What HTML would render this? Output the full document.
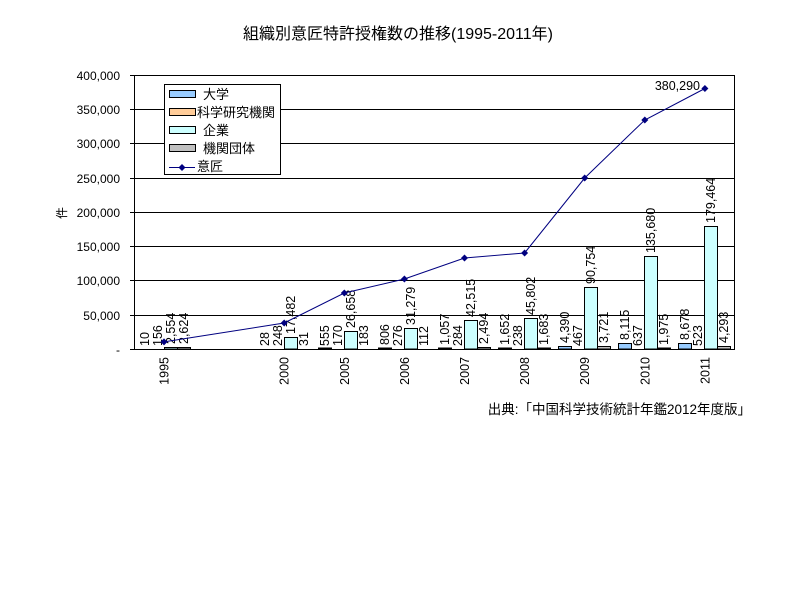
<!DOCTYPE html>
<html><head><meta charset="utf-8"><style>html,body{margin:0;padding:0;background:#fff}svg{display:block}</style></head><body>
<svg width="800" height="600" viewBox="0 0 800 600" xmlns="http://www.w3.org/2000/svg" font-family="'Liberation Sans','Noto Sans CJK JP',sans-serif">
<rect width="800" height="600" fill="#fff"/>
<text x="398" y="39" font-size="16" text-anchor="middle">組織別意匠特許授権数の推移(1995-2011年)</text>
<g stroke="#000" stroke-width="1">
<line x1="134" y1="75.5" x2="735" y2="75.5"/><line x1="134" y1="109.5" x2="735" y2="109.5"/><line x1="134" y1="143.5" x2="735" y2="143.5"/><line x1="134" y1="178.5" x2="735" y2="178.5"/><line x1="134" y1="212.5" x2="735" y2="212.5"/><line x1="134" y1="246.5" x2="735" y2="246.5"/><line x1="134" y1="280.5" x2="735" y2="280.5"/><line x1="134" y1="315.5" x2="735" y2="315.5"/>
<line x1="734.5" y1="75" x2="734.5" y2="349"/>
<line x1="134.5" y1="75" x2="134.5" y2="350"/><line x1="134" y1="349.5" x2="735" y2="349.5"/>
<line x1="130" y1="75.5" x2="134" y2="75.5"/><line x1="130" y1="109.5" x2="134" y2="109.5"/><line x1="130" y1="143.5" x2="134" y2="143.5"/><line x1="130" y1="178.5" x2="134" y2="178.5"/><line x1="130" y1="212.5" x2="134" y2="212.5"/><line x1="130" y1="246.5" x2="134" y2="246.5"/><line x1="130" y1="280.5" x2="134" y2="280.5"/><line x1="130" y1="315.5" x2="134" y2="315.5"/><line x1="130" y1="349.5" x2="134" y2="349.5"/>
</g>
<g font-size="12" text-anchor="end" fill="#000">
<text x="120" y="80">400,000</text><text x="120" y="114">350,000</text><text x="120" y="148">300,000</text><text x="120" y="183">250,000</text><text x="120" y="217">200,000</text><text x="120" y="251">150,000</text><text x="120" y="285">100,000</text><text x="120" y="320">50,000</text><text x="120" y="354">-</text>
</g>
<text x="62" y="217" font-size="12" text-anchor="middle" transform="rotate(-90,62,213)">件</text>
<g stroke="#000" stroke-width="1">
<rect x="164.5" y="347.5" width="13" height="1.5" fill="#ccffff"/><rect x="177.5" y="347.5" width="13" height="1.5" fill="#c0c0c0"/>
<rect x="284.5" y="337.5" width="13" height="11.5" fill="#ccffff"/>
<rect x="318.5" y="348" width="13" height="1" fill="#99ccff"/>
<rect x="344.5" y="331.5" width="13" height="17.5" fill="#ccffff"/>
<rect x="378.5" y="348" width="13" height="1" fill="#99ccff"/>
<rect x="404.5" y="328.5" width="13" height="20.5" fill="#ccffff"/>
<rect x="438.5" y="348" width="13" height="1" fill="#99ccff"/>
<rect x="464.5" y="320.5" width="13" height="28.5" fill="#ccffff"/><rect x="477.5" y="347.5" width="13" height="1.5" fill="#c0c0c0"/>
<rect x="498.5" y="348" width="13" height="1" fill="#99ccff"/>
<rect x="524.5" y="318.5" width="13" height="30.5" fill="#ccffff"/><rect x="537.5" y="348" width="13" height="1" fill="#c0c0c0"/>
<rect x="558.5" y="346.5" width="13" height="2.5" fill="#99ccff"/>
<rect x="584.5" y="287.5" width="13" height="61.5" fill="#ccffff"/><rect x="597.5" y="346.5" width="13" height="2.5" fill="#c0c0c0"/>
<rect x="618.5" y="343.5" width="13" height="5.5" fill="#99ccff"/>
<rect x="644.5" y="256.5" width="13" height="92.5" fill="#ccffff"/><rect x="657.5" y="348" width="13" height="1" fill="#c0c0c0"/>
<rect x="678.5" y="343.5" width="13" height="5.5" fill="#99ccff"/>
<rect x="704.5" y="226.5" width="13" height="122.5" fill="#ccffff"/><rect x="717.5" y="346.5" width="13" height="2.5" fill="#c0c0c0"/>
</g>
<g font-size="12.5">
<text x="149" y="346" transform="rotate(-90,149,346)">10</text><text x="162" y="346" transform="rotate(-90,162,346)">156</text><text x="175" y="344" transform="rotate(-90,175,344)">2,554</text><text x="188" y="344" transform="rotate(-90,188,344)">2,624</text>
<text x="269" y="346" transform="rotate(-90,269,346)">28</text><text x="282" y="346" transform="rotate(-90,282,346)">248</text><text x="295" y="334" transform="rotate(-90,295,334)">17,482</text><text x="308" y="346" transform="rotate(-90,308,346)">31</text>
<text x="329" y="346" transform="rotate(-90,329,346)">555</text><text x="342" y="346" transform="rotate(-90,342,346)">170</text><text x="355" y="328" transform="rotate(-90,355,328)">26,658</text><text x="368" y="346" transform="rotate(-90,368,346)">183</text>
<text x="389" y="345" transform="rotate(-90,389,345)">806</text><text x="402" y="346" transform="rotate(-90,402,346)">276</text><text x="415" y="325" transform="rotate(-90,415,325)">31,279</text><text x="428" y="346" transform="rotate(-90,428,346)">112</text>
<text x="449" y="345" transform="rotate(-90,449,345)">1,057</text><text x="462" y="346" transform="rotate(-90,462,346)">284</text><text x="475" y="317" transform="rotate(-90,475,317)">42,515</text><text x="488" y="344" transform="rotate(-90,488,344)">2,494</text>
<text x="509" y="345" transform="rotate(-90,509,345)">1,652</text><text x="522" y="346" transform="rotate(-90,522,346)">238</text><text x="535" y="315" transform="rotate(-90,535,315)">45,802</text><text x="548" y="345" transform="rotate(-90,548,345)">1,683</text>
<text x="569" y="343" transform="rotate(-90,569,343)">4,390</text><text x="582" y="346" transform="rotate(-90,582,346)">467</text><text x="595" y="284" transform="rotate(-90,595,284)">90,754</text><text x="608" y="343" transform="rotate(-90,608,343)">3,721</text>
<text x="629" y="340" transform="rotate(-90,629,340)">8,115</text><text x="642" y="346" transform="rotate(-90,642,346)">637</text><text x="655" y="253" transform="rotate(-90,655,253)">135,680</text><text x="668" y="345" transform="rotate(-90,668,345)">1,975</text>
<text x="689" y="340" transform="rotate(-90,689,340)">8,678</text><text x="702" y="346" transform="rotate(-90,702,346)">523</text><text x="715" y="223" transform="rotate(-90,715,223)">179,464</text><text x="728" y="343" transform="rotate(-90,728,343)">4,293</text>
</g>
<polyline fill="none" stroke="#000080" stroke-width="1" points="164,341.9 284.2,323 344.3,293 404.4,279 464.5,258 524.6,253 584.7,178 644.8,120 704.9,88.5"/>
<g fill="#000080">
<path d="M164 338.4l3.5 3.5-3.5 3.5-3.5-3.5z"/><path d="M284.2 319.5l3.5 3.5-3.5 3.5-3.5-3.5z"/><path d="M344.3 289.5l3.5 3.5-3.5 3.5-3.5-3.5z"/><path d="M404.4 275.5l3.5 3.5-3.5 3.5-3.5-3.5z"/><path d="M464.5 254.5l3.5 3.5-3.5 3.5-3.5-3.5z"/><path d="M524.6 249.5l3.5 3.5-3.5 3.5-3.5-3.5z"/><path d="M584.7 174.5l3.5 3.5-3.5 3.5-3.5-3.5z"/><path d="M644.8 116.5l3.5 3.5-3.5 3.5-3.5-3.5z"/><path d="M704.9 85l3.5 3.5-3.5 3.5-3.5-3.5z"/>
</g>
<text x="700" y="90" font-size="12.5" text-anchor="end">380,290</text>
<g font-size="12.5" text-anchor="end">
<text x="168.5" y="357" transform="rotate(-90,168.5,357)">1995</text>
<text x="288.7" y="357" transform="rotate(-90,288.7,357)">2000</text>
<text x="348.8" y="357" transform="rotate(-90,348.8,357)">2005</text>
<text x="408.9" y="357" transform="rotate(-90,408.9,357)">2006</text>
<text x="469" y="357" transform="rotate(-90,469,357)">2007</text>
<text x="529.1" y="357" transform="rotate(-90,529.1,357)">2008</text>
<text x="589.2" y="357" transform="rotate(-90,589.2,357)">2009</text>
<text x="649.3" y="357" transform="rotate(-90,649.3,357)">2010</text>
<text x="709.4" y="357" transform="rotate(-90,709.4,357)">2011</text>
</g>
<rect x="164.5" y="84.5" width="116" height="90" fill="#fff" stroke="#000"/>
<g font-size="12" stroke="#000" stroke-width="1">
<rect x="169.5" y="90.5" width="26" height="7" fill="#99ccff"/>
<rect x="169.5" y="108.5" width="26" height="7" fill="#ffcc99"/>
<rect x="169.5" y="126.5" width="26" height="7" fill="#ccffff"/>
<rect x="169.5" y="144.5" width="26" height="7" fill="#c0c0c0"/>
<line x1="169" y1="167.5" x2="195" y2="167.5" stroke="#000080"/>
</g>
<path d="M182 164 L185.5 167.5 L182 171 L178.5 167.5Z" fill="#000080"/>
<g font-size="13"><text x="203" y="99">大学</text><text x="197" y="117">科学研究機関</text><text x="203" y="135">企業</text><text x="203" y="153">機関団体</text><text x="197" y="171">意匠</text></g>
<text x="751" y="414" font-size="13.5" text-anchor="end">出典:「中国科学技術統計年鑑2012年度版」</text>
</svg>
</body></html>
